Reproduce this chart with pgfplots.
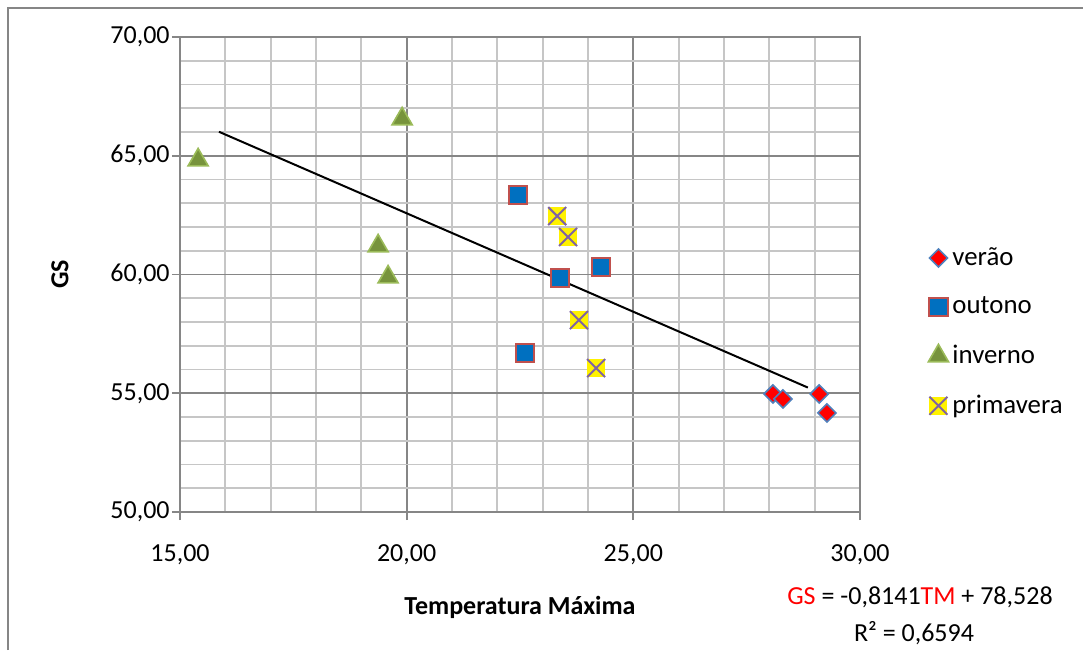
\documentclass[border=0pt]{standalone}
\usepackage{pgfplots}
\pgfplotsset{compat=1.18}
\usepackage{fontspec}
\setmainfont{Carlito}
\definecolor{majgrid}{HTML}{868686}
\definecolor{mingrid}{HTML}{C6C6C6}
\definecolor{vedge}{HTML}{4F81BD}
\definecolor{ofill}{HTML}{0070C0}
\definecolor{oedge}{HTML}{C0504D}
\definecolor{ifill}{HTML}{77933C}
\definecolor{iedge}{HTML}{9BBB59}
\definecolor{ppurple}{HTML}{8064A2}
\pgfdeclareplotmark{sqx}{%
  \pgfpathrectangle{\pgfqpoint{-\pgfplotmarksize}{-\pgfplotmarksize}}{\pgfqpoint{2\pgfplotmarksize}{2\pgfplotmarksize}}%
  \pgfsetfillcolor{yellow}\pgfusepath{fill}%
  \pgfpathmoveto{\pgfqpoint{-\pgfplotmarksize}{-\pgfplotmarksize}}\pgfpathlineto{\pgfqpoint{\pgfplotmarksize}{\pgfplotmarksize}}%
  \pgfpathmoveto{\pgfqpoint{-\pgfplotmarksize}{\pgfplotmarksize}}\pgfpathlineto{\pgfqpoint{\pgfplotmarksize}{-\pgfplotmarksize}}%
  \pgfsetstrokecolor{ppurple}\pgfusepath{stroke}}
\begin{document}
\begin{tikzpicture}[font=\fontsize{13}{15.6}\selectfont]
\path[use as bounding box] (-90pt,-69pt) rectangle (451.5pt,256pt);
\draw[majgrid, line width=1pt] (-86pt,-69pt) -- (-86pt,252pt) -- (451.5pt,252pt);
\begin{axis}[
  at={(0,0)}, anchor=south west,
  scale only axis, width=340pt, height=237.5pt,
  xmin=15, xmax=30, ymin=50, ymax=70,
  xtick={15,20,25,30}, ytick={50,55,60,65,70},
  minor x tick num=4, minor y tick num=4,
  grid=both,
  major grid style={majgrid, line width=0.9pt},
  minor grid style={mingrid, line width=0.9pt},
  axis line style={majgrid, line width=0.9pt},
  tick style={majgrid, line width=0.9pt},
  tick align=outside, major tick length=4pt, minor tick length=0pt,
  xtick pos=bottom, ytick pos=left,
  /pgf/number format/.cd, fixed, fixed zerofill, precision=2, use comma, 1000 sep={}, assume math mode=true,
  /pgfplots/.cd,
  xticklabel style={anchor=north, inner sep=0pt, yshift=-12pt},
  yticklabel style={anchor=east, inner sep=0pt, xshift=-1pt},
  xlabel={\textbf{Temperatura Máxima}},
  xlabel style={at={(axis description cs:0.5,0)}, anchor=center, yshift=-47.5pt},
  legend style={draw=none, fill=none, at={(axis description cs:1.1,0.566)}, anchor=north west, row sep=10.2pt, inner sep=0pt, font=\fontsize{13.4}{15.6}\selectfont},
  legend cell align=left,
]
\addplot[only marks, mark=square*, mark size=3.2pt, mark options={rotate=45, fill=red, draw=vedge, line width=0.8pt}]
  coordinates {(28.08,54.97) (28.30,54.76) (29.10,54.97) (29.27,54.17)};
\addlegendentry{verão}
\addplot[only marks, mark=square*, mark size=4.6pt, mark options={fill=ofill, draw=oedge, line width=1pt}]
  coordinates {(22.46,63.35) (23.38,59.85) (24.29,60.32) (22.61,56.69)};
\addlegendentry{outono}
\addplot[only marks, mark=triangle*, mark size=5.8pt, mark options={fill=ifill, draw=iedge, line width=0.8pt}]
  coordinates {(15.40,64.82) (19.90,66.55) (19.37,61.20) (19.59,59.89)};
\addlegendentry{inverno}
\addplot[only marks, mark=sqx, mark size=4.5pt, mark options={line width=1pt}]
  coordinates {(23.32,62.46) (23.56,61.58) (23.80,58.08) (24.18,56.06)};
\addlegendentry{primavera}
\addplot[black, line width=1pt, forget plot] coordinates {(15.86,66.01) (28.85,55.24)};
\end{axis}
\node[rotate=90] at (-60pt,118.75pt) {\textbf{GS}};
\node at (370pt,-42.5pt) {\textcolor{red}{GS} = -0,8141\textcolor{red}{TM} + 78,528};
\node at (367pt,-60.5pt) {R² = 0,6594};
\end{tikzpicture}
\end{document}
